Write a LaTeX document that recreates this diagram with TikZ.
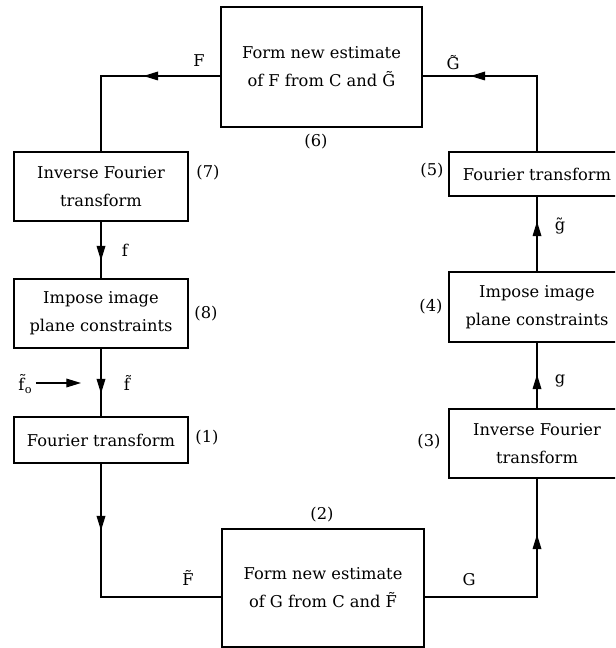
\documentclass[tikz,border=0pt]{standalone}
\usepackage{fontspec}
\setmainfont{DejaVu Serif}
\usetikzlibrary{arrows.meta,decorations.markings}
\newcommand\tld[1]{#1^^^^0303}
\begin{document}
\begin{tikzpicture}[x=0.75pt,y=-0.75pt,
  box/.style={draw,line width=0.9pt,rectangle,inner sep=0pt,align=center,
    font=\fontsize{12.2}{21}\selectfont},
  lbl/.style={font=\fontsize{12.2}{14}\selectfont,inner sep=0pt},
  conn/.style={line width=0.9pt},
  tipat/.style={postaction={decorate},decoration={markings,
    mark=at position #1 with {\arrow{Triangle[length=11pt,width=6.5pt]}}}}
]
\useasboundingbox (0,0) rectangle (615,648);
\clip (0,0) rectangle (615,648);
% boxes
\node[box,minimum width=150.75pt,minimum height=90pt] (b6) at (321.5,67)
  {Form new estimate\\of F from C and \tld{G}};
\node[box,minimum width=130.5pt,minimum height=51.75pt] (b7) at (101,186.5)
  {Inverse Fourier\\transform};
\node[box,minimum width=130.5pt,minimum height=51.75pt] (b8) at (101,313.5)
  {Impose image\\plane constraints};
\node[box,minimum width=130.5pt,minimum height=34.5pt] (b1) at (101,440)
  {Fourier transform};
\node[box,minimum width=151.5pt,minimum height=88.5pt] (b2) at (323,588)
  {Form new estimate\\of G from C and \tld{F}};
\node[box,minimum width=132pt,minimum height=51.75pt] (b3) at (537,443.5)
  {Inverse Fourier\\transform};
\node[box,minimum width=132pt,minimum height=52.5pt] (b4) at (537,307)
  {Impose image\\plane constraints};
\node[box,minimum width=132pt,minimum height=33pt] (b5) at (537,174)
  {Fourier transform};
% corner coordinates
\coordinate (c1) at (101,76);
\coordinate (c2) at (537,76);
\coordinate (c3) at (101,597);
\coordinate (c4) at (537,597);
% connectors
\draw[conn,tipat=57.75pt] (b6.west |- c1) -- (c1) -- (b7.north);
\draw[conn,tipat=106.5pt] (b5.north) -- (c2) -- (b6.east |- c2);
\draw[conn,tipat=29.25pt] (b7.south) -- (b8.north);
\draw[conn,tipat=33.75pt] (b8.south) -- (b1.north);
\draw[conn,tipat=50.25pt] (b1.south) -- (c3) -- (b2.west |- c3);
\draw[conn,tipat=131.25pt] (b2.east |- c4) -- (c4) -- (b3.south);
\draw[conn,tipat=25.5pt] (b3.north) -- (b4.south);
\draw[conn,tipat=37.5pt] (b4.north) -- (b5.south);
% input f0
\node[lbl] (fo) at (25,384) {\tld{f}\kern0.3pt\raisebox{-0.4ex}{\fontsize{8.5}{9}\selectfont o}};
\coordinate (foend) at (81,383);
\draw[conn,-{Triangle[length=11pt,width=6.5pt]}] (fo.east |- foend) ++(4,0) -- (foend);
% labels
\node[lbl,anchor=base] (lF) at (199,67) {F};
\node[lbl,anchor=base] (lGt) at (453,70) {\tld{G}};
\node[lbl] (l6) at (316,142) {(6)};
\node[lbl] (l7) at (208,173) {(7)};
\node[lbl] (l5) at (432,171) {(5)};
\node[lbl] (lf) at (125,250) {f};
\node[lbl] (l8) at (206,314) {(8)};
\node[lbl] (l4) at (431,307) {(4)};
\node[lbl] (lgt) at (560,226) {\tld{g}};
\node[lbl] (lg) at (560,381) {g};
\node[lbl] (lft) at (127,383) {\tld{f}};
\node[lbl] (l1) at (207,438) {(1)};
\node[lbl] (l3) at (429,442) {(3)};
\node[lbl] (l2) at (322,515) {(2)};
\node[lbl,anchor=base] (lFt) at (188,585) {\tld{F}};
\node[lbl,anchor=base] (lG) at (469,585) {G};
\end{tikzpicture}
\end{document}
